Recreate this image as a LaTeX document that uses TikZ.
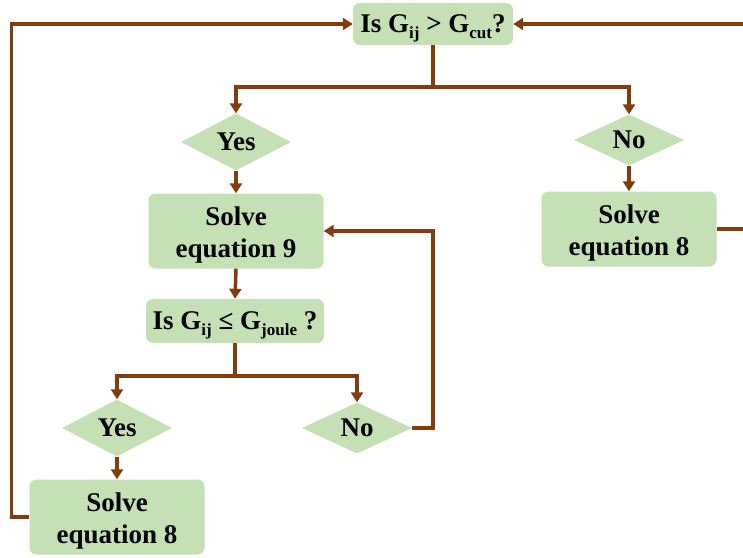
\documentclass[tikz,border=0pt]{standalone}
\usepackage{fontspec}
\setmainfont{Liberation Serif}
\usetikzlibrary{shapes.geometric,arrows.meta}
\definecolor{boxgreen}{HTML}{C5E0B4}
\definecolor{linebrown}{HTML}{843C0C}
\newcommand{\subtxt}[1]{\raisebox{-0.45ex}[0pt][0pt]{\fontsize{17}{17}\selectfont #1}}
\begin{document}
\begin{tikzpicture}[x=1pt,y=-1pt,
  procbox/.style={fill=boxgreen, rounded corners=7pt, font=\bfseries\fontsize{27}{32}\selectfont, align=center, inner sep=0pt},
  proctext/.style={font=\bfseries\fontsize{27}{32}\selectfont, align=center, inner sep=0pt},
  decbox/.style={diamond, fill=boxgreen, inner sep=0pt, minimum width=110pt, minimum height=40pt, font=\bfseries\fontsize{27}{28}\selectfont},
  conn/.style={draw=linebrown, line width=3.5pt},
  arr/.style={conn, -{Triangle[length=10pt,width=12pt]}}]
\useasboundingbox (0,0) rectangle (743,557);
\clip (0,0) rectangle (743,557);

\node[procbox, minimum width=160pt, minimum height=42pt] (top) at (433,24) {Is G\subtxt{ij} > G\subtxt{cut}?};
\node[decbox] (yes1) at (236,142) {Yes};
\node[decbox] (no1) at (629,140) {No};
\node[procbox, minimum width=175pt, minimum height=75pt] (eq9) at (236,231) {};
\node[proctext] (eq9t) at ([yshift=-4pt]eq9.center) {Solve\\equation 9};
\node[procbox, minimum width=175pt, minimum height=75pt] (eq8r) at (629,229) {};
\node[proctext] (eq8rt) at ([yshift=-4pt]eq8r.center) {Solve\\equation 8};
\node[procbox, minimum width=178pt, minimum height=44pt] (joule) at (235,321) {Is G\subtxt{ij} ≤ G\subtxt{joule} ?};
\node[decbox] (yes2) at (117,428) {Yes};
\node[decbox] (no2) at (357,428) {No};
\node[procbox, minimum width=175pt, minimum height=75pt] (eq8l) at (117,517) {};
\node[proctext] (eq8lt) at ([yshift=-4pt]eq8l.center) {Solve\\equation 8};

\coordinate (j1) at (433,87);
\coordinate (j2) at (235,376);
\coordinate (redge) at (760,229);

\draw[conn] (top.south) -- (j1);
\draw[arr] (j1) -| (yes1.north);
\draw[arr] (j1) -| (no1.north);
\draw[arr] (yes1.south) -- (eq9.north);
\draw[arr] (no1.south) -- (eq8r.north);
\draw[arr] (eq8r.east) -- (redge) |- (top.east);
\draw[arr] (eq9.south) -- (joule.north);
\draw[conn] (joule.south) -- (j2);
\draw[arr] (j2) -| (yes2.north);
\draw[arr] (j2) -| (no2.north);
\draw[arr] (no2.east) -- ++(21,0) |- (eq9.east);
\draw[arr] (yes2.south) -- (eq8l.north);
\draw[arr] (eq8l.west) -- ++(-18,0) |- (top.west);
\end{tikzpicture}
\end{document}
